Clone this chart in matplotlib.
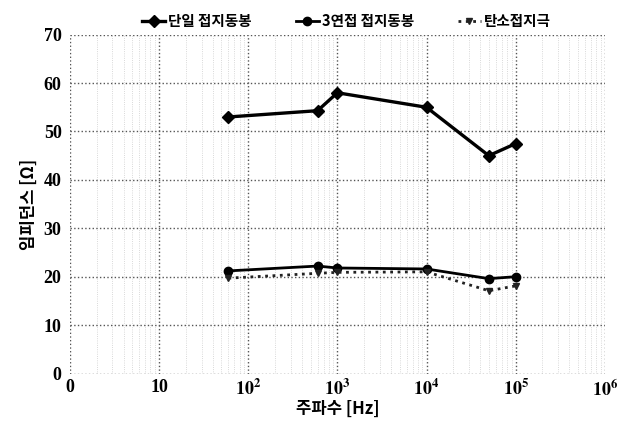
import matplotlib
matplotlib.use("Agg")
import matplotlib.pyplot as plt
from matplotlib.ticker import FixedLocator, FixedFormatter, NullFormatter

freq = [60, 600, 1000, 10000, 50000, 100000]
single_rod = [53.0, 54.3, 58.0, 55.0, 45.0, 47.5]
triple_rod = [21.2, 22.2, 21.8, 21.6, 19.6, 20.0]
carbon = [19.7, 20.7, 20.9, 21.0, 17.1, 18.1]
series_names = ["단일 접지동봉", "3연접 접지동봉", "탄소접지극"]

x_ticks = [1, 10, 100, 1000, 10000, 100000, 1000000]
x_labels = ["0", "10", r"$\mathbf{10^{2}}$", r"$\mathbf{10^{3}}$", r"$\mathbf{10^{4}}$",
            r"$\mathbf{10^{5}}$", r"$\mathbf{10^{6}}$"]
y_ticks = [0, 10, 20, 30, 40, 50, 60, 70]

plt.rcParams['mathtext.fontset'] = 'stix'
serif = ['Liberation Serif', 'DejaVu Serif']
kr = ['Noto Sans CJK KR', 'DejaVu Sans']

fig = plt.figure(figsize=(6.3, 4.23), dpi=100)
ax = fig.add_axes([0.111, 0.117, 0.849, 0.801])

ax.plot(freq, single_rod, color='black', lw=2.4, marker='D', ms=6, label=series_names[0])
ax.plot(freq, triple_rod, color='black', lw=2.0, marker='o', ms=6, label=series_names[1])
ax.plot(freq, carbon, color='#222222', lw=2.0, ls=':', marker='v', ms=5, label=series_names[2])

ax.set_xscale('log')
ax.set_xlim(1, 1e6)
ax.set_ylim(0, 70)
ax.xaxis.set_major_locator(FixedLocator(x_ticks))
ax.xaxis.set_major_formatter(FixedFormatter(x_labels))
ax.xaxis.set_minor_formatter(NullFormatter())
ax.set_yticks(y_ticks)

for s in ax.spines.values():
    s.set_visible(False)
ax.tick_params(axis='both', which='both', length=0)
ax.tick_params(axis='x', pad=4)
ax.tick_params(axis='y', pad=6)
for lab in ax.get_xticklabels() + ax.get_yticklabels():
    lab.set_fontfamily(serif)
    lab.set_fontweight('bold')
    lab.set_fontsize(13)

ax.grid(True, which='major', color='#555555', ls=':', lw=1.0)
ax.grid(True, which='minor', axis='x', color='#cccccc', ls=':', lw=0.6)

ax.set_xlabel("주파수 [Hz]", family=kr, fontweight='bold', fontsize=12, labelpad=0)
ax.set_ylabel("임피던스 [Ω]", family=kr, fontweight='bold', fontsize=12, labelpad=4)

leg = fig.legend(loc='upper center', bbox_to_anchor=(0.55, 1.0), ncol=3, frameon=False,
                 handlelength=1.6, handletextpad=0.2, columnspacing=3.0,
                 prop={'family': kr, 'weight': 'bold', 'size': 10.5})

fig.savefig("out.png", dpi=100)
